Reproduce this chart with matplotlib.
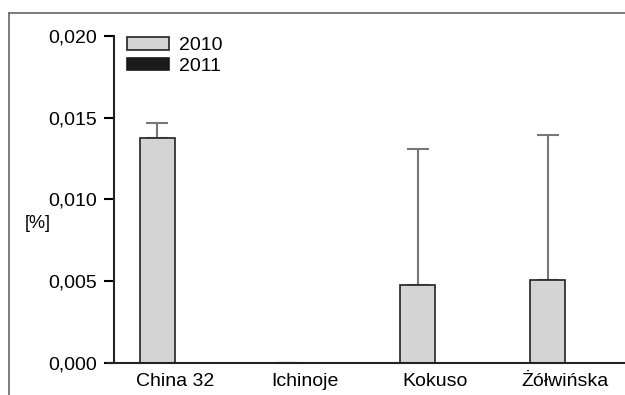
import numpy as np
import matplotlib
matplotlib.use('Agg')
import matplotlib.pyplot as plt
from matplotlib.lines import Line2D
from matplotlib.ticker import FuncFormatter

plt.rcParams['font.family'] = ['Liberation Sans', 'DejaVu Sans']

# dane
odmiany = ['China 32', 'Ichinoje', 'Kokuso', 'Żółwińska']
lata = ['2010', '2011']
wart_2010 = [0.01374, 0.0, 0.00479, 0.0051]
blad_2010 = [0.00092, 0.0, 0.00828, 0.00883]
wart_2011 = [0.0, 0.0, 0.0, 0.0]
blad_2011 = [0.0, 0.0, 0.0, 0.0]

fig = plt.figure(figsize=(6.25, 3.95), dpi=100)
ax = fig.add_axes([0.1824, 0.081, 0.8176, 0.828])

x = np.arange(len(odmiany))
w = 0.27
ax.bar(x - w / 2, wart_2010, w, color='#d4d4d4', edgecolor='#222222', linewidth=1.2,
       label=lata[0], zorder=2)
ax.errorbar(x - w / 2, wart_2010, yerr=[np.zeros(4), blad_2010], fmt='none',
            ecolor='#777777', elinewidth=1.5, capsize=8, capthick=1.5, zorder=1)
ax.bar(x + w / 2, wart_2011, w, color='#1a1a1a', edgecolor='#1a1a1a', linewidth=1.2,
       label=lata[1], zorder=2)

ax.set_xlim(-0.469, 3.46)
ax.set_ylim(0, 0.020)
ax.set_yticks([0, 0.005, 0.010, 0.015, 0.020])
ax.yaxis.set_major_formatter(FuncFormatter(lambda v, p: f'{v:.3f}'.replace('.', ',')))
ax.set_xticks(x)
ax.set_xticklabels(odmiany)
ax.tick_params(axis='x', length=0, pad=7, labelsize=14)
ax.tick_params(axis='y', length=7, width=1.5, direction='out', pad=5, labelsize=14)
for s in ['top', 'right']:
    ax.spines[s].set_visible(False)
for s in ['left', 'bottom']:
    ax.spines[s].set_linewidth(1.5)
    ax.spines[s].set_color('#222222')
ax.spines['bottom'].set_bounds(-0.52, 3.46)
ax.set_ylabel('[%]', rotation=0, fontsize=13, labelpad=0)
ax.yaxis.set_label_coords(-0.15, 0.40)

ax.legend(loc='upper left', bbox_to_anchor=(0.011, 1.02), frameon=False, fontsize=14,
          handlelength=2.15, handleheight=0.6, handletextpad=0.5, labelspacing=0.2,
          borderaxespad=0)

# ramka wokół rysunku
fig.add_artist(Line2D([0.0144, 1.0], [1 - 13 / 395, 1 - 13 / 395], color='#666666', lw=1.2))
fig.add_artist(Line2D([0.0144, 0.0144], [0, 1 - 13 / 395], color='#666666', lw=1.2))

fig.savefig('out.png', dpi=100)
